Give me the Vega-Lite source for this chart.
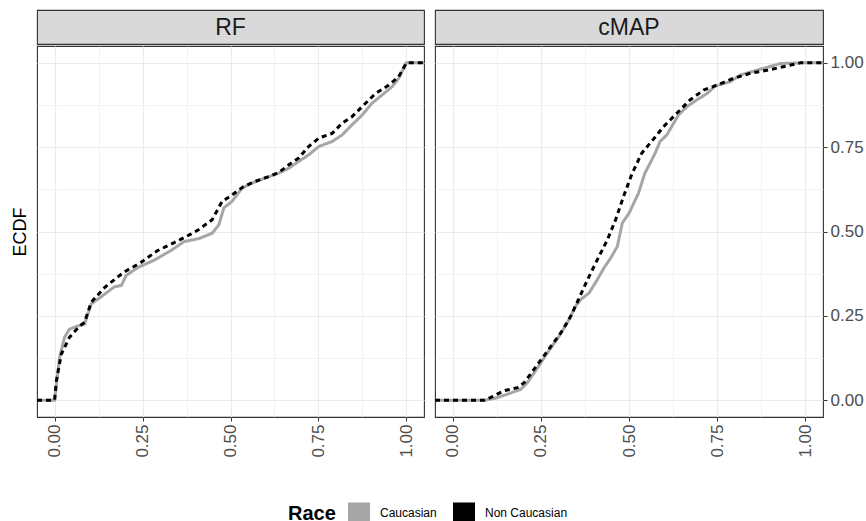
{
  "$schema": "https://vega.github.io/schema/vega-lite/v6.json",
  "padding": {"left": 10, "top": 9, "right": 2, "bottom": 5},
  "background": "white",
  "config": {
    "font": "Liberation Sans",
    "view": {"stroke": "#333333", "strokeWidth": 1.1},
    "axis": {"gridColor": "#ebebeb", "tickColor": "#333333", "labelColor": "#4d4d4d", "domain": false, "labelOverlap": false, "labelFlush": false}
  },
  "datasets": {
    "ecdf": [
      {"panel":"RF","race":"Caucasian","x":-0.05,"y":0},
      {"panel":"RF","race":"Caucasian","x":0,"y":0},
      {"panel":"RF","race":"Caucasian","x":0.014,"y":0.125},
      {"panel":"RF","race":"Caucasian","x":0.028,"y":0.186},
      {"panel":"RF","race":"Caucasian","x":0.042,"y":0.21},
      {"panel":"RF","race":"Caucasian","x":0.066,"y":0.22},
      {"panel":"RF","race":"Caucasian","x":0.085,"y":0.225},
      {"panel":"RF","race":"Caucasian","x":0.104,"y":0.285},
      {"panel":"RF","race":"Caucasian","x":0.137,"y":0.31},
      {"panel":"RF","race":"Caucasian","x":0.17,"y":0.336},
      {"panel":"RF","race":"Caucasian","x":0.19,"y":0.34},
      {"panel":"RF","race":"Caucasian","x":0.203,"y":0.369},
      {"panel":"RF","race":"Caucasian","x":0.236,"y":0.393},
      {"panel":"RF","race":"Caucasian","x":0.283,"y":0.415},
      {"panel":"RF","race":"Caucasian","x":0.33,"y":0.443},
      {"panel":"RF","race":"Caucasian","x":0.368,"y":0.47},
      {"panel":"RF","race":"Caucasian","x":0.41,"y":0.479},
      {"panel":"RF","race":"Caucasian","x":0.448,"y":0.495},
      {"panel":"RF","race":"Caucasian","x":0.467,"y":0.52},
      {"panel":"RF","race":"Caucasian","x":0.481,"y":0.57},
      {"panel":"RF","race":"Caucasian","x":0.505,"y":0.59},
      {"panel":"RF","race":"Caucasian","x":0.533,"y":0.629},
      {"panel":"RF","race":"Caucasian","x":0.562,"y":0.644},
      {"panel":"RF","race":"Caucasian","x":0.599,"y":0.659},
      {"panel":"RF","race":"Caucasian","x":0.637,"y":0.673},
      {"panel":"RF","race":"Caucasian","x":0.666,"y":0.688},
      {"panel":"RF","race":"Caucasian","x":0.694,"y":0.708},
      {"panel":"RF","race":"Caucasian","x":0.722,"y":0.727},
      {"panel":"RF","race":"Caucasian","x":0.751,"y":0.752},
      {"panel":"RF","race":"Caucasian","x":0.789,"y":0.767},
      {"panel":"RF","race":"Caucasian","x":0.817,"y":0.786},
      {"panel":"RF","race":"Caucasian","x":0.845,"y":0.816},
      {"panel":"RF","race":"Caucasian","x":0.874,"y":0.845},
      {"panel":"RF","race":"Caucasian","x":0.902,"y":0.88},
      {"panel":"RF","race":"Caucasian","x":0.931,"y":0.905},
      {"panel":"RF","race":"Caucasian","x":0.959,"y":0.929},
      {"panel":"RF","race":"Caucasian","x":0.978,"y":0.954},
      {"panel":"RF","race":"Caucasian","x":1.0,"y":1.0},
      {"panel":"RF","race":"Caucasian","x":1.05,"y":1.0},
      {"panel":"RF","race":"Non Caucasian","x":-0.05,"y":0},
      {"panel":"RF","race":"Non Caucasian","x":0,"y":0},
      {"panel":"RF","race":"Non Caucasian","x":0.005,"y":0.057},
      {"panel":"RF","race":"Non Caucasian","x":0.019,"y":0.136},
      {"panel":"RF","race":"Non Caucasian","x":0.042,"y":0.186},
      {"panel":"RF","race":"Non Caucasian","x":0.071,"y":0.22},
      {"panel":"RF","race":"Non Caucasian","x":0.085,"y":0.23},
      {"panel":"RF","race":"Non Caucasian","x":0.104,"y":0.29},
      {"panel":"RF","race":"Non Caucasian","x":0.142,"y":0.334},
      {"panel":"RF","race":"Non Caucasian","x":0.184,"y":0.369},
      {"panel":"RF","race":"Non Caucasian","x":0.203,"y":0.383},
      {"panel":"RF","race":"Non Caucasian","x":0.245,"y":0.408},
      {"panel":"RF","race":"Non Caucasian","x":0.292,"y":0.443},
      {"panel":"RF","race":"Non Caucasian","x":0.34,"y":0.467},
      {"panel":"RF","race":"Non Caucasian","x":0.387,"y":0.492},
      {"panel":"RF","race":"Non Caucasian","x":0.41,"y":0.506},
      {"panel":"RF","race":"Non Caucasian","x":0.448,"y":0.535},
      {"panel":"RF","race":"Non Caucasian","x":0.476,"y":0.589},
      {"panel":"RF","race":"Non Caucasian","x":0.505,"y":0.609},
      {"panel":"RF","race":"Non Caucasian","x":0.538,"y":0.634},
      {"panel":"RF","race":"Non Caucasian","x":0.571,"y":0.649},
      {"panel":"RF","race":"Non Caucasian","x":0.609,"y":0.663},
      {"panel":"RF","race":"Non Caucasian","x":0.637,"y":0.675},
      {"panel":"RF","race":"Non Caucasian","x":0.666,"y":0.698},
      {"panel":"RF","race":"Non Caucasian","x":0.694,"y":0.718},
      {"panel":"RF","race":"Non Caucasian","x":0.722,"y":0.752},
      {"panel":"RF","race":"Non Caucasian","x":0.751,"y":0.777},
      {"panel":"RF","race":"Non Caucasian","x":0.789,"y":0.791},
      {"panel":"RF","race":"Non Caucasian","x":0.817,"y":0.821},
      {"panel":"RF","race":"Non Caucasian","x":0.845,"y":0.84},
      {"panel":"RF","race":"Non Caucasian","x":0.874,"y":0.87},
      {"panel":"RF","race":"Non Caucasian","x":0.912,"y":0.909},
      {"panel":"RF","race":"Non Caucasian","x":0.95,"y":0.934},
      {"panel":"RF","race":"Non Caucasian","x":0.978,"y":0.959},
      {"panel":"RF","race":"Non Caucasian","x":1.0,"y":1.0},
      {"panel":"RF","race":"Non Caucasian","x":1.05,"y":1.0},
      {"panel":"cMAP","race":"Caucasian","x":-0.05,"y":0},
      {"panel":"cMAP","race":"Caucasian","x":0.09,"y":0},
      {"panel":"cMAP","race":"Caucasian","x":0.118,"y":0.005},
      {"panel":"cMAP","race":"Caucasian","x":0.156,"y":0.018},
      {"panel":"cMAP","race":"Caucasian","x":0.193,"y":0.032},
      {"panel":"cMAP","race":"Caucasian","x":0.212,"y":0.052},
      {"panel":"cMAP","race":"Caucasian","x":0.241,"y":0.096},
      {"panel":"cMAP","race":"Caucasian","x":0.269,"y":0.141},
      {"panel":"cMAP","race":"Caucasian","x":0.302,"y":0.19},
      {"panel":"cMAP","race":"Caucasian","x":0.325,"y":0.229},
      {"panel":"cMAP","race":"Caucasian","x":0.349,"y":0.279},
      {"panel":"cMAP","race":"Caucasian","x":0.363,"y":0.298},
      {"panel":"cMAP","race":"Caucasian","x":0.387,"y":0.318},
      {"panel":"cMAP","race":"Caucasian","x":0.41,"y":0.357},
      {"panel":"cMAP","race":"Caucasian","x":0.429,"y":0.392},
      {"panel":"cMAP","race":"Caucasian","x":0.448,"y":0.421},
      {"panel":"cMAP","race":"Caucasian","x":0.467,"y":0.456},
      {"panel":"cMAP","race":"Caucasian","x":0.481,"y":0.525},
      {"panel":"cMAP","race":"Caucasian","x":0.5,"y":0.554},
      {"panel":"cMAP","race":"Caucasian","x":0.527,"y":0.614},
      {"panel":"cMAP","race":"Caucasian","x":0.545,"y":0.673},
      {"panel":"cMAP","race":"Caucasian","x":0.56,"y":0.703},
      {"panel":"cMAP","race":"Caucasian","x":0.574,"y":0.732},
      {"panel":"cMAP","race":"Caucasian","x":0.588,"y":0.767},
      {"panel":"cMAP","race":"Caucasian","x":0.607,"y":0.786},
      {"panel":"cMAP","race":"Caucasian","x":0.621,"y":0.811},
      {"panel":"cMAP","race":"Caucasian","x":0.64,"y":0.845},
      {"panel":"cMAP","race":"Caucasian","x":0.664,"y":0.87},
      {"panel":"cMAP","race":"Caucasian","x":0.692,"y":0.89},
      {"panel":"cMAP","race":"Caucasian","x":0.721,"y":0.909},
      {"panel":"cMAP","race":"Caucasian","x":0.744,"y":0.931},
      {"panel":"cMAP","race":"Caucasian","x":0.787,"y":0.944},
      {"panel":"cMAP","race":"Caucasian","x":0.815,"y":0.964},
      {"panel":"cMAP","race":"Caucasian","x":0.862,"y":0.978},
      {"panel":"cMAP","race":"Caucasian","x":0.929,"y":0.998},
      {"panel":"cMAP","race":"Caucasian","x":0.986,"y":1.0},
      {"panel":"cMAP","race":"Caucasian","x":1.05,"y":1.0},
      {"panel":"cMAP","race":"Non Caucasian","x":-0.05,"y":0},
      {"panel":"cMAP","race":"Non Caucasian","x":0.09,"y":0},
      {"panel":"cMAP","race":"Non Caucasian","x":0.108,"y":0.008},
      {"panel":"cMAP","race":"Non Caucasian","x":0.146,"y":0.028},
      {"panel":"cMAP","race":"Non Caucasian","x":0.184,"y":0.037},
      {"panel":"cMAP","race":"Non Caucasian","x":0.203,"y":0.052},
      {"panel":"cMAP","race":"Non Caucasian","x":0.231,"y":0.092},
      {"panel":"cMAP","race":"Non Caucasian","x":0.269,"y":0.146},
      {"panel":"cMAP","race":"Non Caucasian","x":0.307,"y":0.2},
      {"panel":"cMAP","race":"Non Caucasian","x":0.335,"y":0.249},
      {"panel":"cMAP","race":"Non Caucasian","x":0.363,"y":0.313},
      {"panel":"cMAP","race":"Non Caucasian","x":0.387,"y":0.367},
      {"panel":"cMAP","race":"Non Caucasian","x":0.41,"y":0.416},
      {"panel":"cMAP","race":"Non Caucasian","x":0.439,"y":0.476},
      {"panel":"cMAP","race":"Non Caucasian","x":0.462,"y":0.535},
      {"panel":"cMAP","race":"Non Caucasian","x":0.486,"y":0.608},
      {"panel":"cMAP","race":"Non Caucasian","x":0.508,"y":0.67},
      {"panel":"cMAP","race":"Non Caucasian","x":0.536,"y":0.732},
      {"panel":"cMAP","race":"Non Caucasian","x":0.564,"y":0.767},
      {"panel":"cMAP","race":"Non Caucasian","x":0.598,"y":0.811},
      {"panel":"cMAP","race":"Non Caucasian","x":0.635,"y":0.85},
      {"panel":"cMAP","race":"Non Caucasian","x":0.673,"y":0.89},
      {"panel":"cMAP","race":"Non Caucasian","x":0.711,"y":0.919},
      {"panel":"cMAP","race":"Non Caucasian","x":0.749,"y":0.934},
      {"panel":"cMAP","race":"Non Caucasian","x":0.796,"y":0.954},
      {"panel":"cMAP","race":"Non Caucasian","x":0.844,"y":0.969},
      {"panel":"cMAP","race":"Non Caucasian","x":0.891,"y":0.978},
      {"panel":"cMAP","race":"Non Caucasian","x":0.948,"y":0.991},
      {"panel":"cMAP","race":"Non Caucasian","x":0.986,"y":1.0},
      {"panel":"cMAP","race":"Non Caucasian","x":1.05,"y":1.0}
    ]
  },
  "hconcat": [
    {
      "spacing": 0,
      "vconcat": [
        {
          "width": 387, "height": 34,
          "data": {"values": [{"panel": "RF"}]},
          "view": {"fill": "#d9d9d9", "stroke": "#333333", "strokeWidth": 1.1},
          "mark": {"type": "text", "fontSize": 23, "color": "#1a1a1a", "baseline": "middle", "align": "center", "dy": 1},
          "encoding": {"text": {"field": "panel", "type": "nominal"}}
        },
        {
          "width": 387, "height": 371,
          "data": {"name": "ecdf"},
          "transform": [{"filter": "datum.panel == 'RF'"}],
          "mark": {"type": "line", "strokeWidth": 3, "clip": true},
          "encoding": {
            "x": {"field": "x", "type": "quantitative",
              "scale": {"domain": [-0.05, 1.05], "nice": false, "zero": false},
              "axis": {"title": null, "values": [0, 0.125, 0.25, 0.375, 0.5, 0.625, 0.75, 0.875, 1],
                "labelExpr": "(datum.value * 4) % 1 == 0 ? format(datum.value, '.2f') : ''",
                "labelAngle": 270, "labelFontSize": 17, "labelPadding": 3, "tickSize": 4,
                "tickOpacity": {"condition": {"test": "(datum.value * 4) % 1 != 0", "value": 0}, "value": 1},
                "gridWidth": {"condition": {"test": "(datum.value * 4) % 1 != 0", "value": 0.6}, "value": 1.1}}},
            "y": {"field": "y", "type": "quantitative",
              "scale": {"domain": [-0.05, 1.05], "nice": false, "zero": false},
              "axis": {"orient": "left", "title": "ECDF", "titleFontSize": 18, "titleFontWeight": "normal", "titleColor": "#000000", "titlePadding": 8,
                "values": [0, 0.125, 0.25, 0.375, 0.5, 0.625, 0.75, 0.875, 1],
                "labels": false, "ticks": false,
                "gridWidth": {"condition": {"test": "(datum.value * 4) % 1 != 0", "value": 0.6}, "value": 1.1}}},
            "color": {"field": "race", "type": "nominal",
              "scale": {"domain": ["Caucasian", "Non Caucasian"], "range": ["#a6a6a6", "#000000"]},
              "legend": {"orient": "none", "legendX": 251, "legendY": 492, "direction": "horizontal", "titleOrient": "left",
                "title": "Race", "titleFontSize": 20, "titleFontWeight": "bold", "titleColor": "#000000", "titlePadding": 12,
                "labelFontSize": 12, "labelColor": "#000000", "labelOffset": 10, "columnPadding": 13,
                "symbolType": "square", "symbolSize": 420, "symbolStrokeWidth": 1.5, "symbolStrokeColor": "#333333",
                "encode": {"symbols": {"update": {"fill": {"scale": "color", "field": "value"}, "fillOpacity": {"value": 1}, "stroke": {"value": "#333333"}, "strokeWidth": {"value": 1.5}}}}}},
            "strokeDash": {"condition": {"test": "datum.race == 'Non Caucasian'", "value": [5, 4]}, "value": [1, 0]}
          }
        }
      ]
    },
    {
      "spacing": 0,
      "vconcat": [
        {
          "width": 388, "height": 34,
          "data": {"values": [{"panel": "cMAP"}]},
          "view": {"fill": "#d9d9d9", "stroke": "#333333", "strokeWidth": 1.1},
          "mark": {"type": "text", "fontSize": 23, "color": "#1a1a1a", "baseline": "middle", "align": "center", "dy": 1},
          "encoding": {"text": {"field": "panel", "type": "nominal"}}
        },
        {
          "width": 388, "height": 371,
          "data": {"name": "ecdf"},
          "transform": [{"filter": "datum.panel == 'cMAP'"}],
          "mark": {"type": "line", "strokeWidth": 3, "clip": true},
          "encoding": {
            "x": {"field": "x", "type": "quantitative",
              "scale": {"domain": [-0.05, 1.05], "nice": false, "zero": false},
              "axis": {"title": null, "values": [0, 0.125, 0.25, 0.375, 0.5, 0.625, 0.75, 0.875, 1],
                "labelExpr": "(datum.value * 4) % 1 == 0 ? format(datum.value, '.2f') : ''",
                "labelAngle": 270, "labelFontSize": 17, "labelPadding": 3, "tickSize": 4,
                "tickOpacity": {"condition": {"test": "(datum.value * 4) % 1 != 0", "value": 0}, "value": 1},
                "gridWidth": {"condition": {"test": "(datum.value * 4) % 1 != 0", "value": 0.6}, "value": 1.1}}},
            "y": {"field": "y", "type": "quantitative",
              "scale": {"domain": [-0.05, 1.05], "nice": false, "zero": false},
              "axis": {"orient": "right", "title": null,
                "values": [0, 0.125, 0.25, 0.375, 0.5, 0.625, 0.75, 0.875, 1],
                "labelExpr": "(datum.value * 4) % 1 == 0 ? format(datum.value, '.2f') : ''",
                "labelFontSize": 17, "labelPadding": 3, "tickSize": 4,
                "tickOpacity": {"condition": {"test": "(datum.value * 4) % 1 != 0", "value": 0}, "value": 1},
                "gridWidth": {"condition": {"test": "(datum.value * 4) % 1 != 0", "value": 0.6}, "value": 1.1}}},
            "color": {"field": "race", "type": "nominal",
              "scale": {"domain": ["Caucasian", "Non Caucasian"], "range": ["#a6a6a6", "#000000"]},
              "legend": {"orient": "none", "legendX": 251, "legendY": 492, "direction": "horizontal", "titleOrient": "left",
                "title": "Race", "titleFontSize": 20, "titleFontWeight": "bold", "titleColor": "#000000", "titlePadding": 12,
                "labelFontSize": 12, "labelColor": "#000000", "labelOffset": 10, "columnPadding": 13,
                "symbolType": "square", "symbolSize": 420, "symbolStrokeWidth": 1.5, "symbolStrokeColor": "#333333",
                "encode": {"symbols": {"update": {"fill": {"scale": "color", "field": "value"}, "fillOpacity": {"value": 1}, "stroke": {"value": "#333333"}, "strokeWidth": {"value": 1.5}}}}}},
            "strokeDash": {"condition": {"test": "datum.race == 'Non Caucasian'", "value": [5, 4]}, "value": [1, 0]}
          }
        }
      ]
    }
  ],
  "spacing": 9
}
